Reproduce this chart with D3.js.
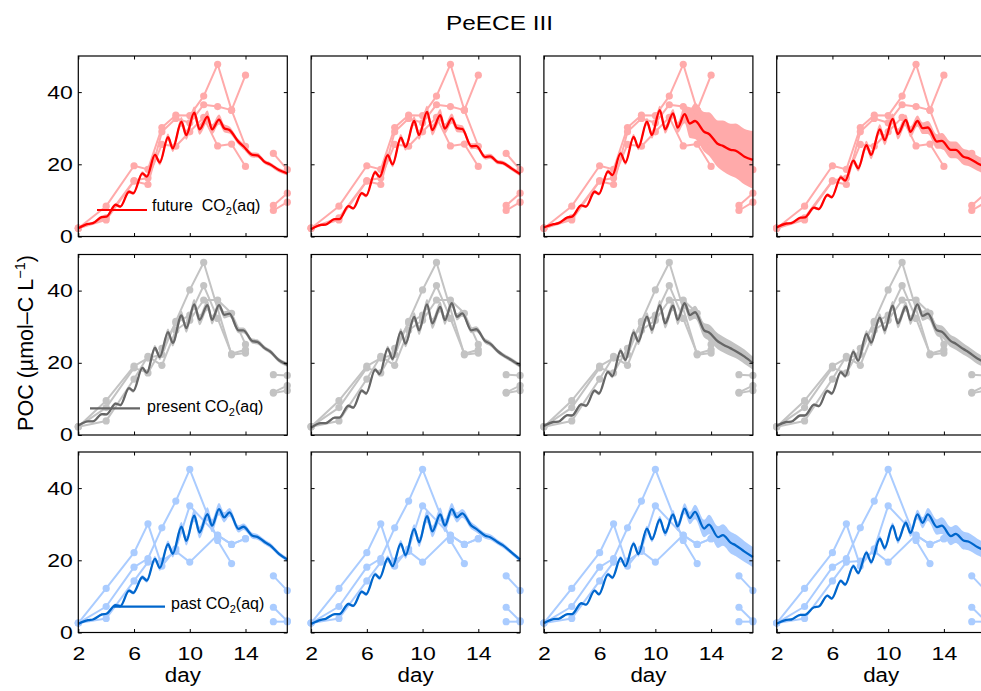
<!DOCTYPE html>
<html><head><meta charset="utf-8">
<script src="https://cdn.jsdelivr.net/npm/d3@7"></script>
<style>
body{margin:0;background:#fff}
text{font-family:"Liberation Sans",Arial,Helvetica,sans-serif;fill:#000}
</style>
</head><body>
<svg id="c" width="981" height="691"></svg>
<script>
// ---------- data ----------
const modelT = [2.0, 2.7, 3.05, 3.7, 4.02, 4.68, 5.02, 5.64, 5.95, 6.6, 6.92, 7.5, 7.85, 8.44, 8.78, 9.4, 9.75, 10.32, 10.7, 11.27, 11.6, 12.1, 12.47, 12.85, 13.5, 13.85, 14.5, 14.85, 15.4, 15.75, 16.4, 17.0];

const futureModel1 = [2.3, 3.5, 3.7, 5.4, 5.5, 8.8, 8.3, 12.4, 12.0, 17.5, 16.6, 22.6, 20.5, 27.5, 24.4, 31.8, 28.1, 34.3, 29.7, 33.2, 29.7, 32.4, 30.0, 29.5, 26.2, 25.0, 22.6, 22.5, 20.6, 20.0, 18.4, 17.5];
const futureModel2 = [2.0, 3.2, 3.3, 4.8, 4.8, 8.4, 7.8, 12.0, 11.3, 17.8, 16.5, 22.5, 20.0, 27.4, 24.8, 32.0, 28.1, 34.5, 29.5, 33.6, 29.9, 32.7, 30.0, 29.8, 25.0, 25.1, 22.0, 22.2, 20.6, 20.4, 18.8, 17.3];
const futureModel3 = [2.5, 3.4, 3.7, 5.3, 5.5, 8.6, 8.3, 12.4, 11.8, 18.0, 17.0, 23.0, 20.5, 27.6, 24.7, 31.8, 28.1, 35.0, 29.7, 34.1, 30.2, 33.9, 31.3, 32.0, 29.0, 28.4, 25.6, 25.1, 24.0, 23.8, 22.1, 21.2];
const futureModel4 = [2.5, 3.6, 3.7, 5.2, 5.3, 8.0, 7.6, 11.5, 10.9, 16.4, 15.5, 21.0, 18.9, 25.3, 22.6, 29.7, 26.7, 32.6, 28.4, 32.3, 29.0, 32.0, 30.0, 30.2, 26.3, 26.5, 24.0, 24.0, 22.1, 21.7, 20.3, 19.2];
const futureBand12 = [0.2, 0.2, 0.2, 0.3, 0.3, 0.4, 0.4, 0.5, 0.5, 0.6, 0.6, 0.8, 0.8, 1.0, 1.0, 1.3, 1.3, 1.7, 1.5, 1.7, 1.4, 1.4, 1.1, 1.0, 0.8, 0.8, 0.7, 0.7, 0.6, 0.6, 0.6, 0.6];
const futureBand3 = [0.2, 0.2, 0.2, 0.3, 0.3, 0.4, 0.4, 0.5, 0.5, 0.6, 0.6, 0.7, 0.7, 0.8, 0.8, 1.0, 1.0, 1.2, 1.2, 1.2, 1.5, 2.5, 4.0, 5.0, 5.5, 6.0, 6.5, 7.0, 7.2, 7.5, 7.7, 8.0];
const futureBand4 = [0.2, 0.2, 0.2, 0.3, 0.3, 0.4, 0.4, 0.5, 0.5, 0.7, 0.7, 0.9, 0.9, 1.2, 1.2, 1.4, 1.4, 1.5, 1.5, 1.5, 1.5, 1.5, 1.6, 1.8, 2.0, 2.2, 2.3, 2.3, 2.2, 2.2, 2.1, 2.0];

const presentModel1 = [2.6, 3.8, 3.8, 5.8, 5.7, 8.7, 8.3, 13.0, 12.2, 18.6, 17.2, 24.1, 21.6, 28.5, 25.5, 33.1, 29.6, 36.2, 31.9, 36.0, 31.9, 36.0, 33.3, 33.6, 29.0, 29.0, 26.0, 25.8, 24.0, 23.2, 20.7, 19.5];
const presentModel2 = [2.0, 3.3, 3.3, 4.8, 4.8, 8.1, 7.6, 12.3, 11.5, 18.1, 16.9, 23.9, 21.1, 28.6, 25.3, 32.7, 29.0, 36.2, 30.9, 35.5, 31.8, 36.5, 32.7, 33.7, 29.0, 29.3, 26.0, 25.3, 23.2, 22.2, 20.7, 19.2];
const presentModel3 = [2.5, 3.6, 3.7, 5.5, 5.4, 8.5, 8.1, 12.3, 11.5, 17.5, 16.3, 23.3, 20.8, 28.4, 25.9, 32.8, 29.1, 36.0, 30.9, 35.8, 31.9, 36.5, 33.2, 34.0, 29.0, 28.4, 25.9, 25.1, 24.0, 23.3, 21.7, 19.9];
const presentModel4 = [2.5, 3.6, 3.7, 5.4, 5.4, 8.4, 8.0, 12.2, 11.5, 17.4, 16.3, 23.0, 20.6, 28.0, 25.6, 32.5, 29.0, 35.8, 30.9, 35.6, 31.8, 36.2, 33.0, 33.6, 29.0, 28.6, 26.0, 25.3, 23.8, 23.0, 21.2, 20.0];
const presentBand12 = [0.2, 0.2, 0.2, 0.3, 0.3, 0.4, 0.4, 0.5, 0.5, 0.6, 0.6, 0.8, 0.8, 1.0, 1.0, 1.3, 1.3, 1.5, 1.5, 1.5, 1.3, 1.2, 1.0, 0.9, 0.8, 0.8, 0.7, 0.7, 0.6, 0.6, 0.6, 0.6];
const presentBand3 = [0.2, 0.2, 0.2, 0.3, 0.3, 0.4, 0.4, 0.5, 0.5, 0.6, 0.6, 0.8, 0.8, 1.0, 1.0, 1.2, 1.2, 1.4, 1.4, 1.4, 1.4, 1.5, 1.6, 1.8, 2.0, 2.2, 2.2, 2.2, 2.1, 2.0, 2.0, 1.8];
const presentBand4 = [0.2, 0.2, 0.2, 0.3, 0.3, 0.4, 0.4, 0.5, 0.5, 0.6, 0.6, 0.8, 0.8, 1.0, 1.0, 1.2, 1.2, 1.3, 1.3, 1.3, 1.3, 1.4, 1.4, 1.5, 1.6, 1.7, 1.7, 1.7, 1.6, 1.5, 1.5, 1.4];

const pastModel1 = [2.4, 3.4, 3.6, 5.0, 5.2, 7.6, 7.3, 11.6, 11.0, 15.3, 14.4, 20.4, 17.9, 24.5, 21.8, 29.3, 25.4, 32.4, 27.7, 32.8, 29.6, 34.2, 31.9, 33.3, 28.7, 29.3, 26.8, 26.5, 25.0, 24.2, 21.8, 20.2];
const pastModel2 = [2.4, 3.5, 3.8, 5.1, 5.1, 7.9, 7.4, 11.3, 10.6, 16.1, 15.1, 20.5, 18.4, 24.6, 21.4, 28.7, 25.0, 32.2, 28.0, 32.7, 29.6, 34.2, 31.9, 33.0, 29.6, 28.7, 26.8, 26.4, 25.0, 24.2, 22.1, 20.2];
const pastModel3 = [2.6, 3.7, 3.8, 5.1, 5.1, 8.1, 7.7, 11.6, 10.6, 16.1, 15.2, 20.6, 18.4, 24.6, 21.7, 28.8, 25.8, 31.3, 27.6, 32.7, 29.4, 34.3, 31.7, 33.4, 28.8, 29.9, 26.4, 27.0, 24.9, 24.2, 22.4, 20.9];
const pastModel4 = [2.4, 3.5, 3.6, 4.9, 4.9, 7.0, 7.2, 10.2, 9.4, 14.3, 13.3, 18.4, 16.5, 22.1, 19.5, 26.0, 23.4, 29.6, 25.5, 30.4, 27.6, 32.7, 30.4, 32.7, 29.2, 29.6, 26.7, 27.3, 25.5, 25.2, 23.7, 22.6];
const pastBand12 = [0.2, 0.2, 0.2, 0.3, 0.3, 0.4, 0.4, 0.5, 0.5, 0.6, 0.6, 0.8, 0.8, 1.0, 1.0, 1.3, 1.3, 1.7, 1.6, 1.9, 1.8, 1.7, 1.4, 1.2, 1.0, 0.9, 0.8, 0.8, 0.7, 0.7, 0.6, 0.6];
const pastBand3 = [0.2, 0.2, 0.2, 0.3, 0.3, 0.3, 0.3, 0.4, 0.4, 0.5, 0.5, 0.6, 0.6, 0.7, 0.7, 0.8, 0.8, 1.0, 1.0, 1.2, 1.3, 1.5, 1.7, 2.0, 2.4, 2.7, 3.0, 3.0, 3.0, 3.0, 2.9, 2.8];
const pastBand4 = [0.2, 0.2, 0.2, 0.3, 0.3, 0.3, 0.3, 0.4, 0.4, 0.5, 0.5, 0.6, 0.6, 0.7, 0.7, 0.8, 0.8, 0.9, 0.9, 1.0, 1.1, 1.3, 1.5, 1.8, 2.1, 2.3, 2.5, 2.5, 2.5, 2.4, 2.3, 2.2];

// observations (mesocosm replicates); null = no sample that day
const obsDaysEarly = [2, 4, 6, 7, 8, 9, 10, 11, 12, 13, 14];
const obsDaysLate = [16, 17];
const futureObsA = [2.3, 8.4, 19.6, 18.6, 30.2, 33.6, 33.5, 38.9, 47.7, 35.0, 25.0];
const futureObsB = [2.3, 4.6, 15.3, 14.4, 29.0, 32.7, 31.5, 36.5, 36.0, 35.0, 44.7];
const futureObsC = [2.3, 5.2, 15.5, 16.2, 25.5, 25.0, 29.0, 33.0, 25.1, 25.6, 19.4];
const futureLateA = [23.0, 18.5];
const futureLateB = [8.6, 12.0];
const futureLateC = [7.2, 9.5];
const presentObsA = [2.3, 9.5, 19.1, 21.3, 22.3, 31.5, 40.2, 47.8, null, 22.2, 22.7];
const presentObsB = [2.3, 7.6, 18.6, 17.2, 24.0, 31.0, 33.2, 41.4, 32.3, 22.5, 23.6];
const presentObsC = [2.3, 3.9, 15.5, 21.8, 19.3, 29.0, 31.8, 37.4, 37.4, 33.7, 25.1];
const presentLateA = [16.7, 16.5];
const presentLateB = [11.6, 12.3];
const presentLateC = [11.8, 13.7];
const pastObsA = [2.6, 12.2, 22.1, 30.1, 18.4, 23.2, 35.1, null, 26.9, 24.4, 26.0];
const pastObsB = [2.6, 7.2, 18.1, 20.5, 29.0, 36.4, 45.2, null, 25.5, 19.1, null];
const pastObsC = [2.6, 3.9, 14.3, 19.5, 19.8, 22.5, 19.5, null, 27.0, 24.4, 26.0];
const pastLateA = [15.7, 11.6];
const pastLateB = [7.0, 3.2];
const pastLateC = [3.0, 3.0];

const xTicks = [2, 6, 10, 14];
const yTicks = [0, 20, 40];
const legendLabels = ["future  CO", "present CO", "past CO"];
const titleText = "PeECE III";

// ---------- layout ----------
const svg = d3.select("#c");
const FONT = '"Liberation Sans",Arial,Helvetica,sans-serif';
const colLeft = [78.3, 311.1, 543.9, 776.7];
const rowTop = [56, 254.5, 452];
const PW = 209, PH = 180.5;
const x = d3.scaleLinear().domain([2, 17]).range([0, PW]);
const y = d3.scaleLinear().domain([0, 50]).range([PH, 0]);

const rows = [
  { models: [futureModel1, futureModel2, futureModel3, futureModel4],
    bands: [futureBand12, futureBand12, futureBand3, futureBand4],
    early: [futureObsA, futureObsB, futureObsC], late: [futureLateA, futureLateB, futureLateC],
    dark: "#ff0000", light: "#ffaaaa",
    leg: { x1: 97, x2: 147, y: 210, tx: 152, ty: 211 } },
  { models: [presentModel1, presentModel2, presentModel3, presentModel4],
    bands: [presentBand12, presentBand12, presentBand3, presentBand4],
    early: [presentObsA, presentObsB, presentObsC], late: [presentLateA, presentLateB, presentLateC],
    dark: "#666666", light: "#c3c3c3",
    leg: { x1: 90, x2: 140, y: 408.3, tx: 147, ty: 411.5 } },
  { models: [pastModel1, pastModel2, pastModel3, pastModel4],
    bands: [pastBand12, pastBand12, pastBand3, pastBand4],
    early: [pastObsA, pastObsB, pastObsC], late: [pastLateA, pastLateB, pastLateC],
    dark: "#0066cc", light: "#aaccff",
    leg: { x1: 114, x2: 165, y: 606.7, tx: 171, ty: 608.5 } }
];

const area = d3.area().curve(d3.curveMonotoneX).x(d => x(d.t)).y0(d => y(d.m - d.h)).y1(d => y(d.m + d.h));
const mline = d3.line().curve(d3.curveMonotoneX).x(d => x(d.t)).y(d => y(d.m));
const line = d3.line().x(d => x(d.t)).y(d => y(d.v));

function stretchLabels(sel, perChar) {
  sel.selectAll("text").each(function () {
    const s = d3.select(this);
    const n = (s.text() || "").length;
    if (n > 0) s.attr("textLength", perChar * n).attr("lengthAdjust", "spacingAndGlyphs");
  });
}

rows.forEach((row, r) => {
  for (let c = 0; c < 4; c++) {
    const g = svg.append("g").attr("transform", `translate(${colLeft[c]},${rowTop[r]})`);
    const md = modelT.map((t, i) => ({ t, m: row.models[c][i], h: row.bands[c][i] }));
    // band
    g.append("path").datum(md).attr("d", area).attr("fill", row.light).attr("stroke", "none");
    // observations
    const segs = [];
    row.early.forEach(arr => segs.push(obsDaysEarly.map((t, i) => ({ t, v: arr[i] })).filter(d => d.v != null)));
    row.late.forEach(arr => segs.push(obsDaysLate.map((t, i) => ({ t, v: arr[i] }))));
    segs.forEach(s => {
      g.append("path").datum(s).attr("d", line).attr("fill", "none")
        .attr("stroke", row.light).attr("stroke-width", 2).attr("stroke-linejoin", "round");
    });
    segs.forEach(s => {
      g.selectAll(null).data(s).enter().append("circle")
        .attr("cx", d => x(d.t)).attr("cy", d => y(d.v)).attr("r", 3.6).attr("fill", row.light);
    });
    // model line
    g.append("path").datum(md).attr("d", mline)
      .attr("fill", "none").attr("stroke", row.dark).attr("stroke-width", 2.3).attr("stroke-linejoin", "round");

    // axes (inward ticks on all sides)
    const tk = 3.5;
    const ax = [
      g.append("g").attr("transform", `translate(0,${PH})`).call(d3.axisBottom(x).tickValues(xTicks).tickSize(-tk).tickPadding(14.5).tickFormat(r === 2 ? d3.format("d") : () => "")),
      g.append("g").call(d3.axisTop(x).tickValues(xTicks).tickSize(-tk).tickFormat(() => "")),
      g.append("g").call(d3.axisLeft(y).tickValues(yTicks).tickSize(-tk).tickPadding(5.5).tickFormat(c === 0 ? d3.format("d") : () => "")),
      g.append("g").attr("transform", `translate(${PW},0)`).call(d3.axisRight(y).tickValues(yTicks).tickSize(-tk).tickFormat(() => ""))
    ];
    ax.forEach(a => {
      a.select(".domain").remove();
      a.selectAll("line").attr("stroke", "#000").attr("stroke-width", 1);
      a.selectAll("text").attr("font-size", 18.5).attr("fill", "#000").attr("font-family", FONT);
      stretchLabels(a, 12.8);
    });
    g.append("rect").attr("x", 0).attr("y", 0).attr("width", PW).attr("height", PH)
      .attr("fill", "none").attr("stroke", "#000").attr("stroke-width", 1.2);

    if (r === 2) {
      g.append("text").attr("x", PW / 2).attr("y", 682 - rowTop[r]).attr("text-anchor", "middle")
        .attr("font-size", 20).attr("textLength", 36).attr("lengthAdjust", "spacingAndGlyphs").text("day");
    }
  }
  // legend (first column)
  const L = row.leg;
  svg.append("line").attr("x1", L.x1).attr("x2", L.x2).attr("y1", L.y).attr("y2", L.y)
    .attr("stroke", row.dark).attr("stroke-width", 2.2);
  const t = svg.append("text").attr("x", L.tx).attr("y", L.ty).attr("font-size", 16).style("white-space", "pre");
  t.append("tspan").text(legendLabels[r]);
  t.append("tspan").attr("font-size", 11).attr("dy", 4).text("2");
  t.append("tspan").attr("dy", -4).text("(aq)");
});

// title
svg.append("text").attr("x", 499.5).attr("y", 29.5).attr("text-anchor", "middle").attr("font-size", 21)
  .attr("textLength", 107).attr("lengthAdjust", "spacingAndGlyphs").text(titleText);

// y label
const yl = svg.append("text").attr("transform", "translate(33,343) rotate(-90)").attr("text-anchor", "middle").attr("font-size", 21.5);
yl.append("tspan").text("POC (\u00b5mol\u2013C L");
yl.append("tspan").attr("font-size", 14.5).attr("dy", -8.5).text("\u22121");
yl.append("tspan").attr("dy", 8.5).text(")");
</script>
</body></html>
